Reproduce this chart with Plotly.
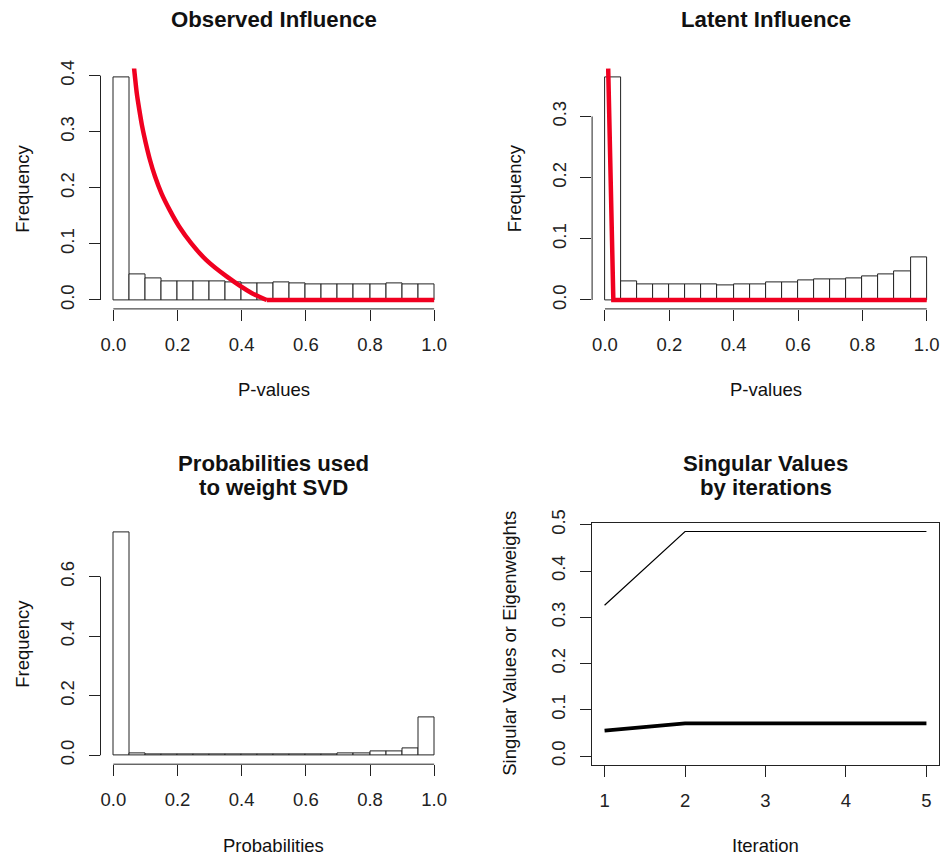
import plotly.graph_objects as go

W, H = 943, 859

# ---------------- data ----------------
bin_centers = [0.025, 0.075, 0.125, 0.175, 0.225, 0.275, 0.325, 0.375, 0.425, 0.475,
               0.525, 0.575, 0.625, 0.675, 0.725, 0.775, 0.825, 0.875, 0.925, 0.975]
bin_width = 0.05

observed_freq = [0.397, 0.046, 0.038, 0.034, 0.033, 0.033, 0.033, 0.031, 0.030, 0.030,
                 0.031, 0.030, 0.028, 0.028, 0.028, 0.028, 0.028, 0.029, 0.028, 0.028]
latent_freq = [0.364, 0.031, 0.026, 0.026, 0.025, 0.025, 0.026, 0.024, 0.026, 0.026,
               0.028, 0.029, 0.032, 0.033, 0.033, 0.035, 0.038, 0.042, 0.047, 0.069]
prob_freq = [0.749, 0.007, 0.003, 0.003, 0.003, 0.003, 0.003, 0.003, 0.003, 0.003,
             0.003, 0.003, 0.003, 0.004, 0.005, 0.008, 0.012, 0.013, 0.022, 0.127]

# fitted curve over observed p-values: decaying part, then flat at zero
observed_curve_x = [0.0645, 0.073, 0.081, 0.090, 0.101, 0.114, 0.130, 0.150, 0.175,
                    0.205, 0.243, 0.290, 0.353, 0.432, 0.478]
observed_curve_y = [0.414, 0.369, 0.339, 0.309, 0.280, 0.250, 0.220, 0.190, 0.161,
                    0.131, 0.101, 0.071, 0.042, 0.012, 0.0]
observed_flat_x = [0.478, 1.0]
observed_flat_y = [0.0, 0.0]

latent_curve_x = [0.010, 0.026, 1.0]
latent_curve_y = [0.379, 0.0, 0.0]

iterations = [1, 2, 3, 4, 5]
singular_values = [0.326, 0.4855, 0.4855, 0.4855, 0.4855]
eigenweights = [0.055, 0.0705, 0.0705, 0.0705, 0.0705]

hist_ticks_x = [0.0, 0.2, 0.4, 0.6, 0.8, 1.0]
hist_ticklabels_x = ["0.0", "0.2", "0.4", "0.6", "0.8", "1.0"]
obs_ticks_y = [0.0, 0.1, 0.2, 0.3, 0.4]
lat_ticks_y = [0.0, 0.1, 0.2, 0.3]
prob_ticks_y = [0.0, 0.2, 0.4, 0.6]
sv_ticks_y = [0.0, 0.1, 0.2, 0.3, 0.4, 0.5]

# ---------------- layout helpers ----------------
def dx(px0, px1):
    return [px0 / W, px1 / W]

def dy(py_top, py_bottom):
    return [1 - py_bottom / H, 1 - py_top / H]

def px(x):
    return x / W

def py(y):
    return 1 - y / H

FONT = "Liberation Sans, Arial, Helvetica, sans-serif"
TICKF = 18.5
LABF = 18.5
TITF = 22.2
AX = "#222222"
RED = "#f00020"

fig = go.Figure()

panels = [
    ("x", "y", (100.5, 447.0), (68.4, 308.9)),
    ("x2", "y2", (592.1, 939.6), (68.4, 308.9)),
    ("x3", "y3", (100.5, 447.0), (523.4, 764.2)),
    ("x4", "y4", (591.7, 939.3), (522.5, 765.0)),
]

hist_data = [observed_freq, latent_freq, prob_freq]
for i, freq in enumerate(hist_data):
    xa, ya = panels[i][0], panels[i][1]
    fig.add_trace(go.Bar(
        x=bin_centers, y=freq, width=[bin_width] * len(bin_centers),
        marker=dict(color="white", line=dict(color=AX, width=1)),
        xaxis=xa, yaxis=ya, showlegend=False, hoverinfo="x+y"))

fig.add_trace(go.Scatter(x=observed_curve_x, y=observed_curve_y, mode="lines",
                         line=dict(color=RED, width=4.5, shape="spline", smoothing=0.6),
                         xaxis="x", yaxis="y", showlegend=False, cliponaxis=True))
fig.add_trace(go.Scatter(x=observed_flat_x, y=observed_flat_y, mode="lines",
                         line=dict(color=RED, width=4.5),
                         xaxis="x", yaxis="y", showlegend=False, cliponaxis=True))
fig.add_trace(go.Scatter(x=latent_curve_x, y=latent_curve_y, mode="lines",
                         line=dict(color=RED, width=4.5), xaxis="x2", yaxis="y2",
                         showlegend=False, cliponaxis=True))

fig.add_trace(go.Scatter(x=iterations, y=singular_values, mode="lines",
                         line=dict(color="black", width=1.2), xaxis="x4", yaxis="y4",
                         showlegend=False))
fig.add_trace(go.Scatter(x=iterations, y=eigenweights, mode="lines",
                         line=dict(color="black", width=3.8), xaxis="x4", yaxis="y4",
                         showlegend=False))

base_axis = dict(showgrid=False, zeroline=False, showline=False, ticks="outside",
                 ticklen=11, tickwidth=1, tickcolor=AX, automargin=False,
                 tickfont=dict(family=FONT, size=TICKF, color="#222"))

def yr(vals):
    m = max(vals)
    return [-0.04 * m, 1.04 * m]

layout = dict(
    width=W, height=H, margin=dict(l=0, r=0, t=0, b=0, autoexpand=False),
    paper_bgcolor="white", plot_bgcolor="white", bargap=0,
    font=dict(family=FONT, color="#222"),
)

xr_hist = [-0.04, 1.04]
y_ranges = [yr(observed_freq), yr(latent_freq), yr(prob_freq), yr(singular_values)]
y_ticks = [obs_ticks_y, lat_ticks_y, prob_ticks_y, sv_ticks_y]

for i, (xa, ya, (x0, x1), (y0, y1)) in enumerate(panels):
    xname = "xaxis" if xa == "x" else "xaxis" + xa[1:]
    yname = "yaxis" if ya == "y" else "yaxis" + ya[1:]
    xd = dict(base_axis, domain=dx(x0, x1), anchor=ya, ticklabelstandoff=8)
    yd = dict(base_axis, domain=dy(y0, y1), anchor=xa, tickangle=-90,
              range=y_ranges[i], tickvals=y_ticks[i],
              ticktext=["%.1f" % v for v in y_ticks[i]], ticklabelstandoff=7)
    if i < 3:
        xd.update(range=xr_hist, tickvals=hist_ticks_x, ticktext=hist_ticklabels_x)
    else:
        xd.update(range=[0.84, 5.16], tickvals=iterations,
                  ticktext=[str(v) for v in iterations])
        xd.update(showline=True, mirror=True, linecolor=AX, linewidth=1)
        yd.update(showline=True, mirror=True, linecolor=AX, linewidth=1)
    layout[xname] = xd
    layout[yname] = yd

fig.update_layout(**layout)

shapes = []
for i in range(3):
    xa, ya = panels[i][0], panels[i][1]
    shapes.append(dict(type="line", xref=xa, yref=ya + " domain",
                       x0=hist_ticks_x[0], x1=hist_ticks_x[-1], y0=0, y1=0,
                       line=dict(color=AX, width=1)))
    shapes.append(dict(type="line", xref=xa + " domain", yref=ya,
                       x0=0, x1=0, y0=y_ticks[i][0], y1=y_ticks[i][-1],
                       line=dict(color=AX, width=1)))
fig.update_layout(shapes=shapes)

ann = []
def text(x, y, s, size, bold=False, angle=0):
    ann.append(dict(x=px(x), y=py(y), xref="paper", yref="paper",
                    text=("<b>%s</b>" % s) if bold else s,
                    showarrow=False, xanchor="center", yanchor="middle", textangle=angle,
                    font=dict(family=FONT, size=size, color="#111")))

text(273.7, 20, "Observed Influence", TITF, True)
text(765.9, 20, "Latent Influence", TITF, True)
text(273.7, 463, "Probabilities used", TITF, True)
text(273.7, 487, "to weight SVD", TITF, True)
text(765.5, 463, "Singular Values", TITF, True)
text(765.5, 487, "by iterations", TITF, True)

text(273.7, 390, "P-values", LABF)
text(765.9, 390, "P-values", LABF)
text(273.7, 845, "Probabilities", LABF)
text(765.5, 845, "Iteration", LABF)

text(23, 188.7, "Frequency", LABF, angle=-90)
text(514.6, 188.7, "Frequency", LABF, angle=-90)
text(23, 643.8, "Frequency", LABF, angle=-90)
text(510, 643.8, "Singular Values or Eigenweights", LABF, angle=-90)

fig.update_layout(annotations=ann)

fig.write_html("out.html", config={"displayModeBar": False},
               post_script="document.body.style.margin='0';document.body.style.overflow='hidden';")
